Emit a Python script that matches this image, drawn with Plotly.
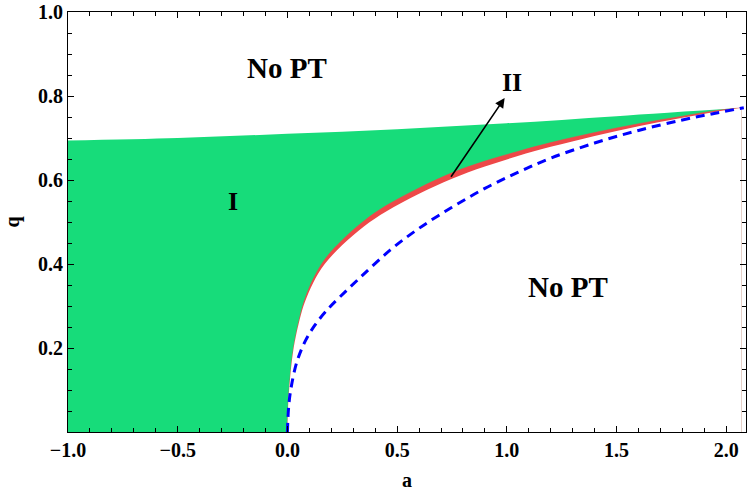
import plotly.graph_objects as go

# ---- data ----
# upper boundary of region I (green)
a_top = [-1.0, -0.5, 0.0, 0.5, 1.0, 1.5, 2.07]
q_top = [0.694, 0.700, 0.710, 0.721, 0.735, 0.752, 0.772]

# red band (region II): lower (white side) and upper (green side) edges
a_curve = [0, 0.003, 0.01, 0.027, 0.057, 0.08, 0.117, 0.17, 0.25, 0.35, 0.45,
           0.6, 0.75, 0.9, 1.05, 1.2, 1.4, 1.6, 1.8, 1.95, 2.07]
q_red_low = [0, 0.06, 0.115, 0.195, 0.27, 0.31, 0.355, 0.40, 0.445, 0.49, 0.525,
             0.567, 0.603, 0.632, 0.657, 0.679, 0.705, 0.728, 0.748, 0.762, 0.772]
q_red_top = [0, 0.06, 0.116, 0.198, 0.275, 0.317, 0.364, 0.411, 0.457, 0.503, 0.539,
             0.581, 0.617, 0.645, 0.668, 0.689, 0.713, 0.734, 0.752, 0.765, 0.772]

# blue dashed curve
a_blue = [0, 0.005, 0.015, 0.042, 0.08, 0.126, 0.18, 0.24, 0.33, 0.468, 0.6, 0.75, 0.9,
          1.05, 1.2, 1.4, 1.6, 1.8, 1.95, 2.08]
q_blue = [0, 0.055, 0.10, 0.165, 0.215, 0.255, 0.29, 0.322, 0.367, 0.433, 0.485, 0.535, 0.58,
          0.618, 0.652, 0.688, 0.718, 0.743, 0.759, 0.772]

x_ticks = [-1.0, -0.5, 0.0, 0.5, 1.0, 1.5, 2.0]
y_ticks = [0.2, 0.4, 0.6, 0.8, 1.0]

labels = ["No PT", "No PT", "I", "II"]
label_a = [0.0, 1.28, -0.25, 1.025]
label_q = [0.867, 0.345, 0.548, 0.833]
label_size = [29, 29, 26, 26]

arrow_tail = (0.741, 0.604)
arrow_head = (0.99, 0.795)

GREEN = "#17DC7A"
RED = "#EE4848"
FONT = "Liberation Serif, Times New Roman, serif"

fig = go.Figure()

# green region (everything under the top boundary)
fig.add_trace(go.Scatter(x=a_top, y=q_top, fill="tozeroy", fillcolor=GREEN,
                         mode="lines", line=dict(width=0, color=GREEN, shape="spline"),
                         hoverinfo="skip", showlegend=False))
# red band: under its upper edge in red ...
fig.add_trace(go.Scatter(x=a_curve, y=q_red_top, fill="tozeroy", fillcolor=RED,
                         mode="lines", line=dict(width=0.5, color=RED, shape="spline"),
                         hoverinfo="skip", showlegend=False))
# ... then white under its lower edge
fig.add_trace(go.Scatter(x=a_curve, y=q_red_low, fill="tozeroy", fillcolor="white",
                         mode="lines", line=dict(width=0, color="white", shape="spline"),
                         hoverinfo="skip", showlegend=False))

# blue dashed
fig.add_trace(go.Scatter(x=a_blue, y=q_blue, mode="lines",
                         line=dict(color="#0000FF", width=3, dash="9px,6px", shape="spline"),
                         hoverinfo="skip", showlegend=False))

for t, xa, ya, s in zip(labels, label_a, label_q, label_size):
    fig.add_annotation(x=xa, y=ya, text=t, showarrow=False,
                       font=dict(family=FONT, size=s, color="black", weight="bold"))

fig.add_annotation(x=arrow_head[0], y=arrow_head[1], ax=arrow_tail[0], ay=arrow_tail[1],
                   xref="x", yref="y", axref="x", ayref="y", text="",
                   showarrow=True, arrowhead=2, arrowsize=1.2, arrowwidth=1.6,
                   arrowcolor="black")

axis_common = dict(showgrid=False, zeroline=False, showline=True, linecolor="black",
                   linewidth=1.2, mirror="allticks", ticks="inside", ticklen=6,
                   tickwidth=1, tickcolor="black", automargin=False, layer="above traces",
                   tickfont=dict(family=FONT, size=20, color="black", weight="bold"))

fig.update_xaxes(range=[-1.0, 2.09], tickvals=x_ticks, tickformat=".1f",
                 minor=dict(dtick=0.1, tick0=0, ticks="inside", ticklen=4, tickcolor="black"),
                 title=dict(text="a", standoff=12,
                            font=dict(family=FONT, size=20, color="black", weight="bold")),
                 **axis_common)
fig.update_yaxes(range=[0, 1.0], tickvals=y_ticks, tickformat=".1f",
                 minor=dict(dtick=0.05, tick0=0, ticks="inside", ticklen=4, tickcolor="black"),
                 title=dict(text="q", standoff=12,
                            font=dict(family=FONT, size=20, color="black", weight="bold")),
                 **axis_common)

fig.update_layout(width=747, height=497, margin=dict(l=68, r=1, t=12, b=65),
                  plot_bgcolor="white", paper_bgcolor="white", showlegend=False)

fig.write_html("out.html", config={"displayModeBar": False},
               post_script="document.body.style.margin='0';document.body.style.overflow='hidden';")
